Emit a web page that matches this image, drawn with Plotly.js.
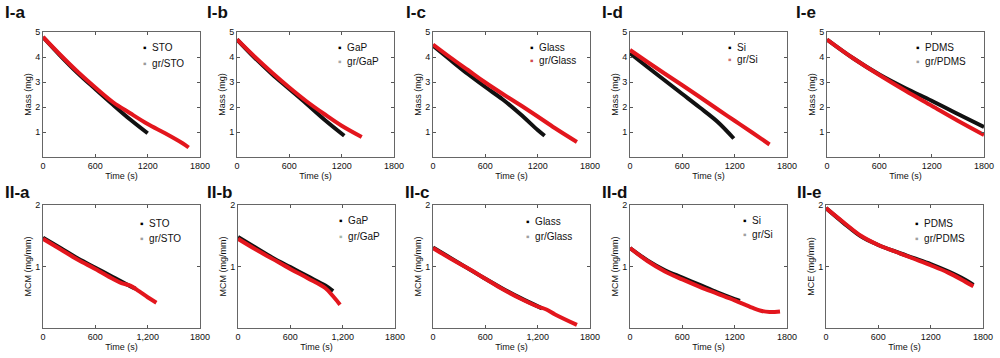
<!DOCTYPE html>
<html><head><meta charset="utf-8">
<script src="https://cdn.plot.ly/plotly-3.0.1.min.js"></script>
<style>html,body{margin:0;padding:0;background:#fff}#chart{width:1000px;height:358px}</style>
</head><body><div id="chart"></div>
<script>
// ---------- data ----------
const panelLabels = ["I-a","I-b","I-c","I-d","I-e","II-a","II-b","II-c","II-d","II-e"];
const bareNames = ["STO","GaP","Glass","Si","PDMS","STO","GaP","Glass","Si","PDMS"];
const grNames = ["gr/STO","gr/GaP","gr/Glass","gr/Si","gr/PDMS","gr/STO","gr/GaP","gr/Glass","gr/Si","gr/PDMS"];
const yTitles = ["Mass (mg)","Mass (mg)","Mass (mg)","Mass (mg)","Mass (mg)",
                 "MCM (mg/mm)","MCM (mg/mm)","MCM (mg/mm)","MCM (mg/mm)","MCE (mg/mm)"];
const xTickVals = [0,600,1200,1800];
const xTickTextPlain = ["0","600","1200","1800"];
const xTickTextComma = ["0","600","1,200","1800"];
const massTicks = [1,2,3,4,5];
const mcmTicks = [1,2];

// I-a STO
const tIaBare = [0,200,400,600,800,1000,1200];
const mIaBare = [4.8,4.05,3.35,2.72,2.1,1.5,0.95];
const tIaGr = [0,200,400,600,800,1000,1200,1400,1600,1670];
const mIaGr = [4.8,4.08,3.4,2.78,2.2,1.75,1.32,0.95,0.55,0.38];
// I-b GaP
const tIbBare = [0,200,400,600,800,1000,1230];
const mIbBare = [4.7,3.98,3.32,2.72,2.12,1.5,0.85];
const tIbGr = [0,200,400,600,800,1000,1200,1430];
const mIbGr = [4.7,4.02,3.38,2.78,2.22,1.72,1.25,0.8];
// I-c Glass
const tIcBare = [0,200,400,600,800,1000,1200,1280];
const mIcBare = [4.45,3.88,3.32,2.8,2.3,1.72,1.08,0.85];
const tIcGr = [0,200,400,600,800,1000,1200,1400,1650];
const mIcGr = [4.5,3.98,3.48,2.98,2.52,2.08,1.62,1.15,0.6];
// I-d Si
const tIdBare = [0,200,400,600,800,1000,1190];
const mIdBare = [4.15,3.6,3.06,2.52,1.98,1.42,0.74];
const tIdGr = [0,200,400,600,800,1000,1200,1400,1600];
const mIdGr = [4.28,3.8,3.33,2.87,2.4,1.92,1.45,0.98,0.5];
// I-e PDMS
const tIeBare = [0,300,600,900,1200,1500,1800];
const mIeBare = [4.7,3.95,3.3,2.75,2.25,1.72,1.2];
const tIeGr = [0,300,600,900,1200,1500,1800];
const mIeGr = [4.7,3.95,3.28,2.65,2.05,1.45,0.88];
// II-a STO
const tIIaBare = [0,200,400,600,800,1000,1060];
const mIIaBare = [1.47,1.3,1.13,0.98,0.83,0.68,0.64];
const tIIaGr = [0,200,400,600,800,900,1000,1100,1200,1300];
const mIIaGr = [1.45,1.28,1.11,0.96,0.8,0.73,0.69,0.6,0.5,0.41];
// II-b GaP
const tIIbBare = [0,200,400,600,800,1000,1090];
const mIIbBare = [1.48,1.31,1.14,0.99,0.84,0.69,0.6];
const tIIbGr = [0,200,400,600,800,1000,1100,1170];
const mIIbGr = [1.45,1.28,1.12,0.96,0.81,0.65,0.5,0.38];
// II-c Glass
const tIIcBare = [0,200,400,600,800,1000,1250];
const mIIcBare = [1.31,1.14,0.97,0.8,0.64,0.49,0.32];
const tIIcGr = [0,200,400,600,800,1000,1200,1300,1400,1650];
const mIIcGr = [1.3,1.13,0.97,0.8,0.63,0.48,0.35,0.3,0.22,0.05];
// II-d Si
const tIIdBare = [0,200,400,600,800,1000,1200,1260];
const mIIdBare = [1.3,1.1,0.94,0.82,0.7,0.58,0.47,0.44];
const tIIdGr = [0,200,400,600,800,1000,1200,1400,1500,1600,1720];
const mIIdGr = [1.3,1.09,0.92,0.79,0.67,0.56,0.45,0.33,0.28,0.26,0.27];
// II-e PDMS
const tIIeBare = [0,200,400,600,800,1000,1200,1400,1600,1690];
const mIIeBare = [1.95,1.71,1.49,1.35,1.24,1.14,1.04,0.92,0.78,0.7];
const tIIeGr = [0,200,400,600,800,1000,1200,1400,1600,1690];
const mIIeGr = [1.95,1.72,1.5,1.35,1.24,1.13,1.02,0.9,0.75,0.68];

const series = [
  [tIaBare,mIaBare,tIaGr,mIaGr],[tIbBare,mIbBare,tIbGr,mIbGr],[tIcBare,mIcBare,tIcGr,mIcGr],
  [tIdBare,mIdBare,tIdGr,mIdGr],[tIeBare,mIeBare,tIeGr,mIeGr],
  [tIIaBare,mIIaBare,tIIaGr,mIIaGr],[tIIbBare,mIIbBare,tIIbGr,mIIbGr],[tIIcBare,mIIcBare,tIIcGr,mIIcGr],
  [tIIdBare,mIIdBare,tIIdGr,mIIdGr],[tIIeBare,mIIeBare,tIIeGr,mIIeGr]
];

// ---------- layout geometry (pixels) ----------
const W = 1000, H = 358;
const px = x => x / W, py = y => 1 - y / H;
const boxLeft = [43,237,433,630,827, 43,238,433,630,826];
const boxW = 157;
const rowTop = [32, 205], rowBot = [157, 328];
const labelX = [3,205,404,600,794, 3,205,403,600,795];
const labelY = [13,13,13,13,13, 192,192,192,192,192];
const legDotX = [144,339,531,729,917, 141,340,527,744,916];
const legY1 = [48,48,48,47,47, 223,220,221,220,223];
const legY2 = [63,62,61,60,62, 238,236,236,235,238];
const grDotColor = ["#9a9a9a","#a8a8a8","#d04a50","#d07070","#a0a0a0","#a0a0a0","#a8b8a8","#a0a0a0","#a0a0a0","#a0a0a0"];

const FONT = "Liberation Sans, Arial, sans-serif";
const traces = [];
const layout = {
  width: W, height: H, margin: {l:0,r:0,t:0,b:0},
  paper_bgcolor: "#fff", plot_bgcolor: "#fff", showlegend: false,
  font: {family: FONT, color: "#111"},
  annotations: []
};

for (let i = 0; i < 10; i++) {
  const n = i === 0 ? "" : String(i + 1);
  const row = i < 5 ? 0 : 1;
  const [tb, mb, tg, mg] = series[i];
  traces.push({x: tb, y: mb, xaxis: "x" + n, yaxis: "y" + n, mode: "lines", type: "scatter",
    name: bareNames[i], line: {color: "#111", width: 4, shape: "spline"}, hoverinfo: "skip"});
  traces.push({x: tg, y: mg, xaxis: "x" + n, yaxis: "y" + n, mode: "lines", type: "scatter",
    name: grNames[i], line: {color: "#e3161d", width: 4, shape: "spline"}, hoverinfo: "skip"});

  const comma = (i >= 5 && i <= 7);
  layout["xaxis" + n] = {
    domain: [px(boxLeft[i]), px(boxLeft[i] + boxW)], range: [0, 1800], anchor: "y" + n,
    tickvals: xTickVals, ticktext: comma ? xTickTextComma : xTickTextPlain,
    ticks: "inside", ticklen: 3, tickcolor: "#555", showline: true, mirror: "ticks",
    linecolor: "#666", linewidth: 1, showgrid: false, zeroline: false,
    tickfont: {size: 9, family: FONT, color: "#111"},
    title: {text: "Time (s)", font: {size: 9, family: FONT, color: "#111"}, standoff: 0}
  };
  layout["yaxis" + n] = {
    domain: [py(rowBot[row]), py(rowTop[row])], range: row === 0 ? [0, 5] : [0, 2], anchor: "x" + n,
    tickvals: row === 0 ? massTicks : mcmTicks,
    ticks: "inside", ticklen: 3, tickcolor: "#555", showline: true, mirror: "ticks",
    linecolor: "#666", linewidth: 1, showgrid: false, zeroline: false,
    tickfont: {size: 9, family: FONT, color: "#111"},
    title: {text: yTitles[i], font: {size: 9, family: FONT, color: "#111"}, standoff: 2}
  };

  layout.annotations.push({xref: "paper", yref: "paper", x: px(labelX[i]), y: py(labelY[i]),
    xanchor: "left", yanchor: "middle", showarrow: false, text: "<b>" + panelLabels[i] + "</b>",
    font: {size: 17, family: FONT, color: "#111"}});
  layout.annotations.push({xref: "paper", yref: "paper", x: px(legDotX[i] - 3), y: py(legY1[i]),
    xanchor: "left", yanchor: "middle", showarrow: false,
    text: "<span style='color:#000'>▪</span>  " + bareNames[i],
    font: {size: 10, family: FONT, color: "#111"}});
  layout.annotations.push({xref: "paper", yref: "paper", x: px(legDotX[i] - 3), y: py(legY2[i]),
    xanchor: "left", yanchor: "middle", showarrow: false,
    text: "<span style='color:" + grDotColor[i] + "'>▪</span>  " + grNames[i],
    font: {size: 10, family: FONT, color: "#111"}});
}

Plotly.newPlot("chart", traces, layout, {staticPlot: true, displayModeBar: false});
</script>
</body></html>
